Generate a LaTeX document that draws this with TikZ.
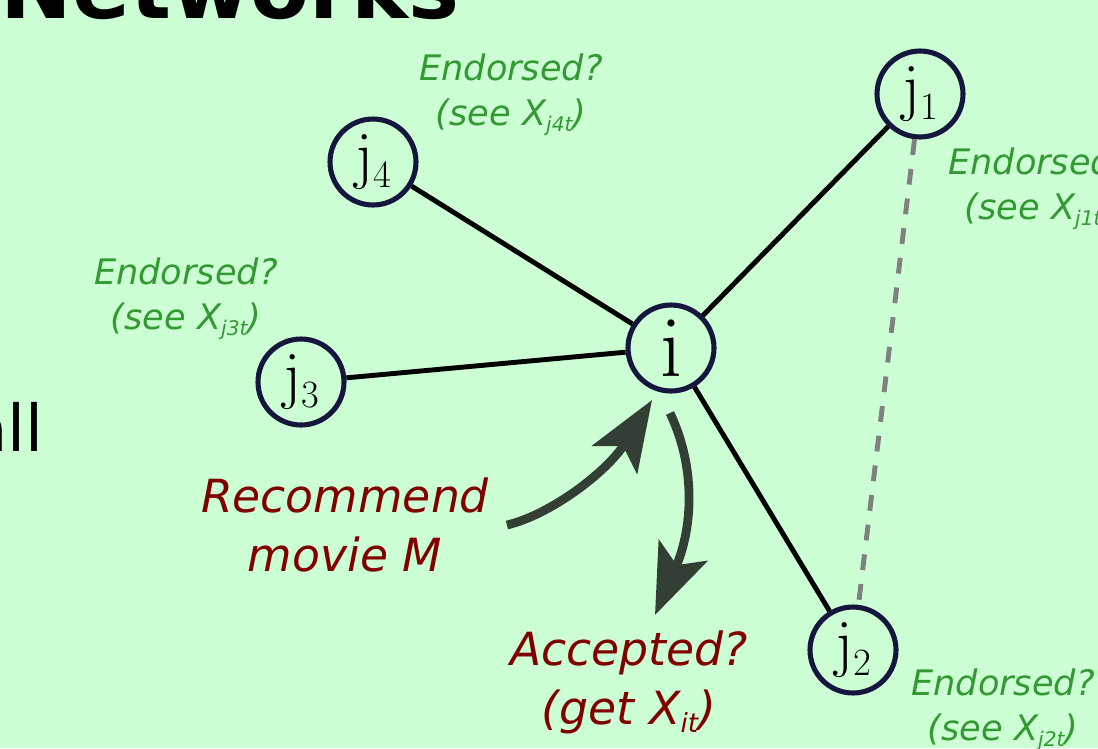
\documentclass[tikz,border=0pt]{standalone}
\usepackage{xcolor}
\definecolor{cbg}{HTML}{CCFFD4}
\definecolor{cnode}{HTML}{15153D}
\definecolor{cendorse}{HTML}{339933}
\definecolor{cask}{HTML}{800000}
\definecolor{carrow}{HTML}{333F35}
\definecolor{cdash}{HTML}{808080}
\usepackage{fontspec}
\setsansfont{DejaVu Sans}
\usepackage{tikz}
\usetikzlibrary{arrows.meta, positioning}
\newcommand{\lowsub}[3]{\raisebox{-#1}{\fontsize{#2}{#2}\selectfont #3}}

\begin{document}
\begin{tikzpicture}[x=0.02cm, y=-0.02cm,
    person/.style={circle, draw=cnode, line width=2.9pt, minimum size=1.72cm, inner sep=0pt, font=\fontsize{37}{42}\selectfont},
    tie/.style={line width=2.8pt},
    endorse/.style={text=cendorse, align=center, font=\sffamily\itshape\fontsize{20}{25.5}\selectfont},
    ask/.style={text=cask, align=center, inner xsep=10pt, font=\sffamily\itshape\fontsize{26}{33.5}\selectfont},
    flow/.style={carrow, line width=5pt, -{Stealth[length=40pt, width=30pt, inset=9pt]}}]
  % Fondo
  \fill[cbg] (0,0) rectangle (1098,748);
  \useasboundingbox (0,0) rectangle (1098,748);
  \node[anchor=base west, inner sep=0pt, font=\sffamily\bfseries\fontsize{48.8}{50}\selectfont] (title) at (0,18) {Networks};
  \node[anchor=base east, inner sep=0pt, font=\sffamily\fontsize{36.8}{40}\selectfont] (cut) at (44,451) {all};
  % Nodos
  \node[person, font=\fontsize{50}{54}\selectfont] (i) at (671,348) {i};
  \node[person] (j1) at (920,94) {j\lowsub{6.5pt}{22}{1}};
  \node[person] (j2) at (853,650) {j\lowsub{6.5pt}{22}{2}};
  \node[person] (j3) at (301,382) {j\lowsub{6.5pt}{22}{3}};
  \node[person] (j4) at (373,162) {j\lowsub{6.5pt}{22}{4}};
  % Aristas
  \draw[tie] (i) -- (j1);
  \draw[tie] (i) -- (j2);
  \draw[tie] (i) -- (j3);
  \draw[tie] (i) -- (j4);
  \draw[cdash, line width=2.8pt, dash pattern=on 9pt off 8pt] (j1) -- (j2);
  % Labels
  \node[endorse] (e1) at (1040,189) {Endorsed?\\(see X\lowsub{3.4pt}{11.5}{j1t})};
  \node[endorse] (e2) at (1003,710) {Endorsed?\\(see X\lowsub{3.4pt}{11.5}{j2t})};
  \node[endorse] (e3) at (186,299) {Endorsed?\\(see X\lowsub{3.4pt}{11.5}{j3t})};
  \node[endorse] (e4) at (511,95) {Endorsed?\\(see X\lowsub{3.4pt}{11.5}{j4t})};
  \node[ask] (rec) at (345,525) {Recommend\\movie M};
  \node[ask] (acc) at (629,682) {Accepted?\\(get X\lowsub{5pt}{15}{it})};
  % Flechas
  \coordinate (rtip) at (652,400);
  \coordinate (aout) at (670,413);
  \coordinate (atip) at (655,615);
  \draw[flow] (rec.east) .. controls (550,515) and (607,472) .. (rtip);
  \draw[flow] (aout) .. controls (697,470) and (692,530) .. (atip);
\end{tikzpicture}
\end{document}
